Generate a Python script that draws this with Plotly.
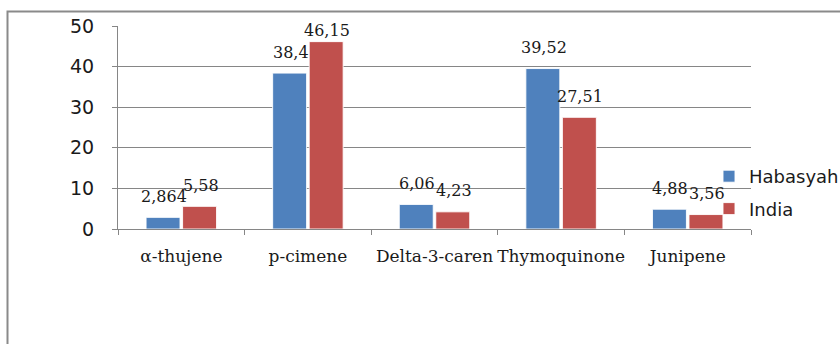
import plotly.graph_objects as go

# Compound content (%) by origin
categories = ["α-thujene", "p-cimene", "Delta-3-caren", "Thymoquinone", "Junipene"]
habasyah = [2.864, 38.4, 6.06, 39.52, 4.88]
india = [5.58, 46.15, 4.23, 27.51, 3.56]
series_names = ["Habasyah", "India"]
y_ticks = [0, 10, 20, 30, 40, 50]

BLUE = "#4F81BD"
RED = "#C0504D"
GRID = "#868686"

W, H = 840, 344
M_L, M_R, M_T, M_B = 118, 89, 26, 115
Y_MAX = 50
px_per_unit = (H - M_T - M_B) / Y_MAX
plot_w = W - M_L - M_R
cat_w = plot_w / len(categories)
BARGAP = 0.423
slot = cat_w * (1 - BARGAP) / 2

fig = go.Figure()
for name, vals, color in [(series_names[0], habasyah, BLUE), (series_names[1], india, RED)]:
    fig.add_trace(go.Bar(
        name=name, x=categories, y=vals, legendgroup=name,
        marker=dict(color=color, line=dict(color="rgba(255,255,255,0.9)", width=1)),
        hoverinfo="x+y",
    ))

# Value labels above each bar, decimal comma, kept inside the plot area
LIFT = 21
cap = 49.0 - LIFT / px_per_unit
for vals, shift in [(habasyah, -slot / 2), (india, slot / 2)]:
    for c, v in zip(categories, vals):
        fig.add_annotation(
            x=c, y=min(v, cap), xref="x", yref="y",
            text=str(v).replace(".", ","), showarrow=False,
            xshift=shift + 1, yshift=LIFT, yanchor="middle", xanchor="center",
            font=dict(family="DejaVu Serif", size=16, color="#1a1a1a"),
        )

# Outer chart frame (runs off the right and bottom edges)
fig.add_shape(
    type="rect", xref="paper", yref="paper",
    x0=(7.5 - M_L) / plot_w, x1=1.4,
    y0=-1.0, y1=(H - M_B - 11.5) / (H - M_T - M_B),
    line=dict(color="#8a8a8a", width=2), fillcolor="rgba(0,0,0,0)", layer="below",
)

fig.update_layout(
    width=W, height=H, autosize=False,
    margin=dict(l=M_L, r=M_R, t=M_T, b=M_B, pad=0, autoexpand=False),
    paper_bgcolor="white", plot_bgcolor="white",
    barmode="group", bargap=BARGAP, bargroupgap=0.07,
    showlegend=True,
    legend=dict(
        x=(709 - M_L) / plot_w, xanchor="left",
        y=(H - M_B - 158) / (H - M_T - M_B), yanchor="top",
        bgcolor="rgba(0,0,0,0)", tracegroupgap=6,
        font=dict(family="DejaVu Sans", size=18, color="#1a1a1a"),
    ),
    xaxis=dict(
        showline=True, linecolor=GRID, linewidth=1,
        ticks="outside", tickson="boundaries", ticklen=5, tickcolor=GRID,
        tickfont=dict(family="DejaVu Serif", size=17, color="#1a1a1a"),
        tickangle=0, automargin=False,
        ticklabelstandoff=12,
        showgrid=False, zeroline=False,
    ),
    yaxis=dict(
        range=[0, Y_MAX], tickvals=y_ticks,
        showgrid=True, gridcolor=GRID, gridwidth=1,
        showline=True, linecolor=GRID, linewidth=1,
        ticks="outside", ticklen=5, tickcolor=GRID,
        tickfont=dict(family="DejaVu Sans", size=19, color="#1a1a1a"),
        ticklabelstandoff=14, automargin=False,
        zeroline=False,
    ),
)

fig.write_html("out.html")
